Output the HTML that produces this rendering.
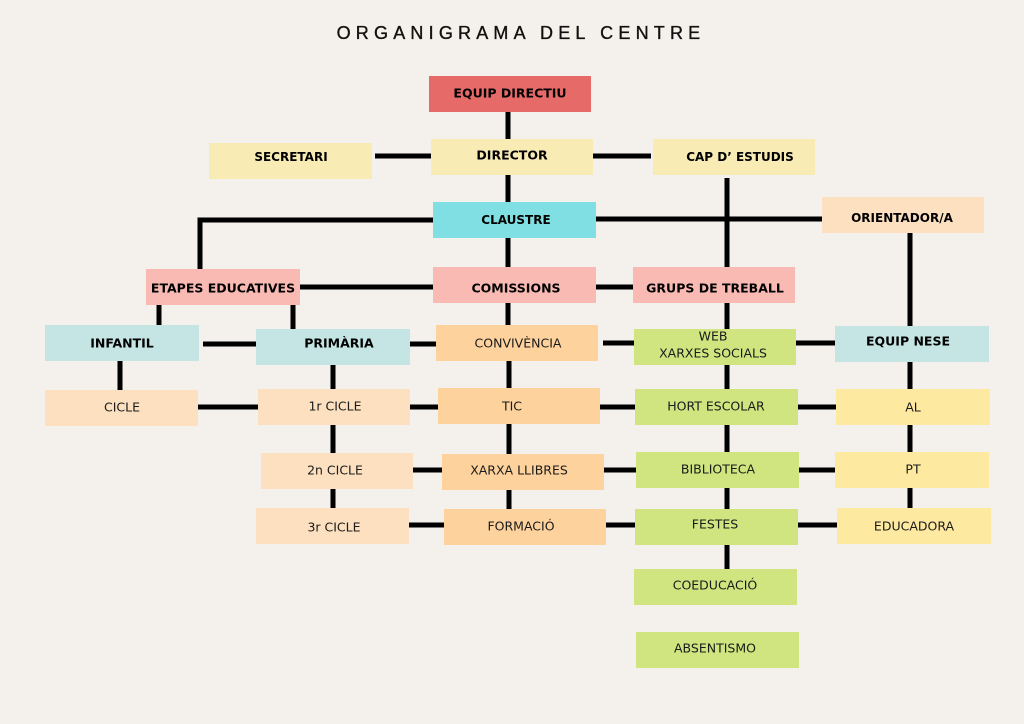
<!DOCTYPE html>
<html><head><meta charset="utf-8"><style>
html,body{margin:0;padding:0;background:#f4f0eb;}
svg{display:block}
text{font-family:"DejaVu Sans","Liberation Sans",sans-serif;font-size:12.5px;fill:#1a1a1a;text-anchor:middle;dominant-baseline:central}
.b{font-weight:bold;fill:#000}
</style></head><body>
<svg width="1024" height="724" viewBox="0 0 1024 724" xmlns="http://www.w3.org/2000/svg">
<rect width="1024" height="724" fill="#f4f0eb"/>
<text x="521" y="33" style="font-family:'Liberation Sans',sans-serif;font-size:18px;letter-spacing:5.2px;fill:#111;stroke:#111;stroke-width:0.35">ORGANIGRAMA DEL CENTRE</text>
<g stroke="#000" stroke-width="5" fill="none">
<line x1="508" y1="112" x2="508" y2="325"/>
<line x1="509" y1="361" x2="509" y2="509"/>
<line x1="375" y1="156" x2="431" y2="156"/>
<line x1="593" y1="156" x2="651" y2="156"/>
<polyline points="433,220 200,220 200,269"/>
<line x1="596" y1="219" x2="822" y2="219"/>
<line x1="727" y1="178" x2="727" y2="569"/>
<line x1="910" y1="233" x2="910" y2="326"/>
<line x1="910" y1="362" x2="910" y2="508"/>
<line x1="300" y1="287" x2="433" y2="287"/>
<line x1="596" y1="287" x2="633" y2="287"/>
<line x1="159" y1="305" x2="159" y2="325"/>
<line x1="293" y1="305" x2="293" y2="329"/>
<line x1="203" y1="344" x2="256" y2="344"/>
<line x1="410" y1="344" x2="436" y2="344"/>
<line x1="603" y1="343" x2="634" y2="343"/>
<line x1="796" y1="343" x2="835" y2="343"/>
<line x1="120" y1="361" x2="120" y2="390"/>
<line x1="333" y1="365" x2="333" y2="508"/>
<line x1="198" y1="407" x2="258" y2="407"/>
<line x1="410" y1="407" x2="438" y2="407"/>
<line x1="600" y1="407" x2="635" y2="407"/>
<line x1="798" y1="407" x2="836" y2="407"/>
<line x1="413" y1="470" x2="442" y2="470"/>
<line x1="604" y1="470" x2="636" y2="470"/>
<line x1="799" y1="470" x2="835" y2="470"/>
<line x1="409" y1="525" x2="444" y2="525"/>
<line x1="606" y1="525" x2="635" y2="525"/>
<line x1="798" y1="525" x2="837" y2="525"/>
</g>
<g>
<rect x="429" y="76" width="162" height="36" fill="#e66a68"/><text class="b" x="510" y="93">EQUIP DIRECTIU</text>
<rect x="209" y="143" width="163" height="36" fill="#f8ebb4"/><text class="b" x="291" y="157" style="font-size:12px">SECRETARI</text>
<rect x="431" y="139" width="162" height="36" fill="#f8ebb4"/><text class="b" x="512" y="155">DIRECTOR</text>
<rect x="653" y="139" width="162" height="36" fill="#f8ebb4"/><text class="b" x="740" y="157" style="font-size:12px">CAP D’ ESTUDIS</text>
<rect x="433" y="202" width="163" height="36" fill="#80dfe3"/><text class="b" x="516" y="220" style="font-size:12px">CLAUSTRE</text>
<rect x="822" y="197" width="162" height="36" fill="#fde0bf"/><text class="b" x="902" y="218" style="font-size:12px">ORIENTADOR/A</text>
<rect x="146" y="269" width="154" height="36" fill="#f9bab3"/><text class="b" x="223" y="288">ETAPES EDUCATIVES</text>
<rect x="433" y="267" width="163" height="36" fill="#f9bab3"/><text class="b" x="516" y="288">COMISSIONS</text>
<rect x="633" y="267" width="162" height="36" fill="#f9bab3"/><text class="b" x="715" y="288">GRUPS DE TREBALL</text>
<rect x="45" y="325" width="154" height="36" fill="#c4e5e3"/><text class="b" x="122" y="343">INFANTIL</text>
<rect x="256" y="329" width="154" height="36" fill="#c4e5e3"/><text class="b" x="339" y="343">PRIMÀRIA</text>
<rect x="436" y="325" width="162" height="36" fill="#fed29c"/><text x="518" y="343">CONVIVÈNCIA</text>
<rect x="634" y="329" width="162" height="36" fill="#d0e57f"/><text x="713" y="336">WEB</text><text x="713" y="353">XARXES SOCIALS</text>
<rect x="835" y="326" width="154" height="36" fill="#c4e5e3"/><text class="b" x="908" y="341">EQUIP NESE</text>
<rect x="45" y="390" width="153" height="36" fill="#fde0bf"/><text x="122" y="407">CICLE</text>
<rect x="258" y="389" width="152" height="36" fill="#fde0bf"/><text x="335" y="406">1r CICLE</text>
<rect x="438" y="388" width="162" height="36" fill="#fed29c"/><text x="512" y="406">TIC</text>
<rect x="635" y="389" width="163" height="36" fill="#d0e57f"/><text x="716" y="406">HORT ESCOLAR</text>
<rect x="836" y="389" width="154" height="36" fill="#fde99f"/><text x="913" y="407">AL</text>
<rect x="261" y="453" width="152" height="36" fill="#fde0bf"/><text x="335" y="470">2n CICLE</text>
<rect x="442" y="454" width="162" height="36" fill="#fed29c"/><text x="519" y="470">XARXA LLIBRES</text>
<rect x="636" y="452" width="163" height="36" fill="#d0e57f"/><text x="718" y="469">BIBLIOTECA</text>
<rect x="835" y="452" width="154" height="36" fill="#fde99f"/><text x="913" y="469">PT</text>
<rect x="256" y="508" width="153" height="36" fill="#fde0bf"/><text x="334" y="527">3r CICLE</text>
<rect x="444" y="509" width="162" height="36" fill="#fed29c"/><text x="521" y="526">FORMACIÓ</text>
<rect x="635" y="509" width="163" height="36" fill="#d0e57f"/><text x="715" y="524">FESTES</text>
<rect x="837" y="508" width="154" height="36" fill="#fde99f"/><text x="914" y="526">EDUCADORA</text>
<rect x="634" y="569" width="163" height="36" fill="#d0e57f"/><text x="715" y="585">COEDUCACIÓ</text>
<rect x="636" y="632" width="163" height="36" fill="#d0e57f"/><text x="715" y="648">ABSENTISMO</text>
</g>
</svg>
</body></html>
